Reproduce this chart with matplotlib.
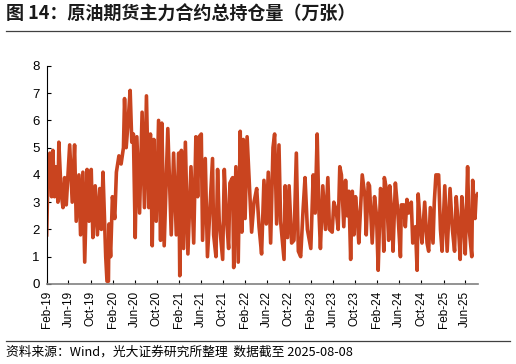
import matplotlib
matplotlib.use("Agg")
import matplotlib.pyplot as plt
import matplotlib.dates as mdates
import pandas as pd

# 原油期货主力合约总持仓量（万张）
dates = [
    "2019-02-01", "2019-02-10", "2019-02-19", "2019-02-28", "2019-03-07", "2019-03-16", "2019-03-25",
    "2019-04-04", "2019-04-09", "2019-04-22", "2019-05-02", "2019-05-11", "2019-05-20", "2019-06-08",
    "2019-06-22", "2019-07-05", "2019-07-14", "2019-07-29", "2019-08-07", "2019-08-20", "2019-08-30",
    "2019-09-12", "2019-09-23", "2019-10-05", "2019-10-14", "2019-10-27", "2019-11-08", "2019-11-21",
    "2019-11-30", "2019-12-09", "2019-12-24", "2019-12-31", "2020-01-08", "2020-01-11", "2020-01-20",
    "2020-01-30", "2020-02-12", "2020-02-21", "2020-03-06", "2020-03-18", "2020-03-31", "2020-04-06",
    "2020-04-15", "2020-04-24", "2020-05-07", "2020-05-16", "2020-05-25", "2020-06-04", "2020-06-13",
    "2020-06-28", "2020-07-12", "2020-07-25", "2020-08-05", "2020-08-18", "2020-08-27", "2020-09-06",
    "2020-09-15", "2020-09-28", "2020-10-11", "2020-10-22", "2020-10-29", "2020-11-11", "2020-12-01",
    "2020-12-20", "2021-01-02", "2021-01-17", "2021-01-30", "2021-02-05", "2021-02-14", "2021-02-26",
    "2021-03-08", "2021-03-22", "2021-04-08", "2021-04-23", "2021-05-05", "2021-05-15", "2021-05-23",
    "2021-06-04", "2021-06-11", "2021-06-26", "2021-07-08", "2021-08-05", "2021-08-11", "2021-08-24",
    "2021-09-02", "2021-09-11", "2021-09-30", "2021-10-09", "2021-10-22", "2021-11-02", "2021-11-09",
    "2021-11-24", "2021-11-30", "2021-12-12", "2021-12-25", "2022-01-05", "2022-01-14", "2022-01-22",
    "2022-02-01", "2022-02-12", "2022-02-25", "2022-03-09", "2022-03-22", "2022-04-06", "2022-04-19",
    "2022-05-03", "2022-05-16", "2022-05-29", "2022-06-09", "2022-06-22", "2022-07-05", "2022-07-14",
    "2022-07-25", "2022-08-07", "2022-08-16", "2022-09-04", "2022-09-10", "2022-09-23", "2022-10-02",
    "2022-10-16", "2022-10-29", "2022-11-11", "2022-11-22", "2022-12-05", "2022-12-18", "2022-12-29",
    "2023-01-11", "2023-01-30", "2023-02-12", "2023-02-23", "2023-03-06", "2023-03-15", "2023-03-24",
    "2023-04-06", "2023-04-21", "2023-05-04", "2023-05-13", "2023-05-28", "2023-06-06", "2023-06-19",
    "2023-06-30", "2023-07-09", "2023-07-18", "2023-07-31", "2023-08-10", "2023-08-19", "2023-08-28",
    "2023-09-07", "2023-09-16", "2023-09-25", "2023-10-04", "2023-10-13", "2023-10-22", "2023-11-10",
    "2023-11-25", "2023-12-02", "2023-12-13", "2023-12-20", "2024-01-04", "2024-01-17", "2024-01-28",
    "2024-02-06", "2024-02-19", "2024-02-28", "2024-03-08", "2024-03-11", "2024-03-22", "2024-04-04",
    "2024-04-10", "2024-04-23", "2024-04-28", "2024-05-11", "2024-05-24", "2024-06-08", "2024-06-13",
    "2024-06-26", "2024-07-05", "2024-07-14", "2024-07-23", "2024-08-07", "2024-08-15", "2024-08-30",
    "2024-09-08", "2024-09-14", "2024-09-26", "2024-10-05", "2024-10-20", "2024-11-02", "2024-11-11",
    "2024-11-20", "2024-12-05", "2024-12-12", "2024-12-21", "2025-01-05", "2025-01-15", "2025-01-24",
    "2025-02-08", "2025-02-21", "2025-03-09", "2025-03-22", "2025-04-03", "2025-04-12", "2025-04-25",
    "2025-05-04", "2025-05-13", "2025-05-22", "2025-06-01", "2025-06-14", "2025-06-23", "2025-07-07",
    "2025-07-12", "2025-07-25", "2025-07-31", "2025-08-08",
]
values = [
    1.8, 4.7, 4.8, 3.2, 4.9, 3.2, 4.3,
    3.0, 5.2, 3.3, 2.8, 3.9, 2.9, 5.1,
    3.0, 5.1, 2.3, 4.0, 1.8, 4.1, 0.8,
    4.2, 2.3, 4.2, 1.7, 3.6, 1.8, 3.5,
    2.0, 4.1, 1.0, 0.1, 0.1, 2.2, 1.0,
    3.2, 2.4, 4.1, 4.7, 4.4, 5.0, 6.8,
    5.0, 5.8, 7.1, 5.2, 5.5, 1.7, 5.4,
    2.6, 6.3, 2.8, 6.9, 2.8, 5.5, 1.4,
    5.3, 2.3, 6.0, 1.6, 5.9, 1.4, 5.7,
    1.8, 4.8, 1.8, 4.8, 0.3, 4.9, 1.3,
    5.2, 1.1, 4.3, 1.5, 5.4, 3.2, 5.4,
    5.5, 1.6, 4.6, 1.0, 4.6, 1.8, 1.0,
    4.2, 2.3, 0.9, 4.2, 2.3, 1.3, 3.7,
    3.9, 0.6, 4.3, 0.8, 5.6, 1.9, 5.3,
    2.4, 5.4, 3.6, 1.9, 3.0, 3.5, 2.1,
    1.1, 3.8, 2.2, 4.1, 1.5, 5.0, 5.5,
    2.2, 5.1, 2.3, 0.9, 3.6, 1.7, 3.6,
    1.5, 1.6, 4.8, 1.2, 1.0, 2.7, 3.9,
    2.0, 1.3, 4.0, 2.6, 5.5, 2.8, 1.3,
    3.6, 2.0, 3.9, 2.0, 1.9, 3.0, 2.7,
    2.0, 4.3, 4.0, 2.1, 3.8, 2.5, 3.4,
    0.9, 3.4, 1.8, 3.2, 2.5, 1.5, 4.0,
    3.2, 1.8, 3.7, 3.6, 1.5, 3.2, 2.5,
    0.5, 3.5, 3.2, 1.2, 3.9, 3.5, 1.6,
    3.6, 2.4, 1.2, 3.7, 2.7, 1.0, 2.9,
    2.9, 2.1, 3.1, 2.6, 3.0, 1.5, 2.1,
    0.5, 3.3, 2.1, 1.5, 3.0, 1.5, 1.2,
    2.8, 1.5, 3.0, 4.0, 4.0, 2.0, 1.2,
    3.6, 1.2, 3.5, 2.0, 1.2, 3.2, 2.0,
    0.9, 3.2, 2.4, 1.1, 4.3, 2.0, 1.0,
    3.8, 2.4, 3.2, 3.3,
]
yticks = [0, 1, 2, 3, 4, 5, 6, 7, 8]

x = pd.to_datetime(dates)

plt.rcParams['font.family'] = ['Liberation Sans', 'Noto Sans CJK SC']

fig = plt.figure(figsize=(5.16, 3.64), dpi=100)
ax = fig.add_axes([0.0905, 0.22, 0.835, 0.599])

ax.plot(x, values, color='#C9441F', linewidth=2.6, solid_joinstyle='round')

ax.set_ylim(0, 8)
ax.set_yticks(yticks)
ax.set_xlim(pd.Timestamp("2019-02-01"), pd.Timestamp("2025-08-08"))
ax.xaxis.set_major_locator(mdates.MonthLocator(bymonth=[2, 6, 10]))
ax.xaxis.set_major_formatter(mdates.DateFormatter('%b-%y'))
for lbl in ax.get_xticklabels():
    lbl.set_rotation(90)

ax.tick_params(axis='both', direction='in', length=3, width=0.8, colors='black')
ax.tick_params(axis='y', labelsize=9.5, pad=5)
ax.tick_params(axis='x', labelsize=8.5, pad=5)
ax.spines['top'].set_visible(False)
ax.spines['right'].set_visible(False)
ax.spines['left'].set_color('black')
ax.spines['bottom'].set_color('#808080')
ax.spines['bottom'].set_linewidth(1.2)

fig.text(0.012, 0.962, "图 14：原油期货主力合约总持仓量（万张）", fontsize=13, fontweight='bold',
         family=['Noto Sans CJK SC'], va='center', ha='left', color='#1a1a1a')
fig.add_artist(plt.Line2D([0.012, 0.988], [0.915, 0.915], color='#404040', linewidth=0.9))
fig.add_artist(plt.Line2D([0.012, 0.988], [0.062, 0.062], color='#404040', linewidth=0.9))
fig.text(0.012, 0.033, "资料来源：Wind，光大证券研究所整理  数据截至 2025-08-08", fontsize=9.2,
         family=['Noto Sans CJK SC'], va='center', ha='left')

fig.savefig("out.png", dpi=100)
